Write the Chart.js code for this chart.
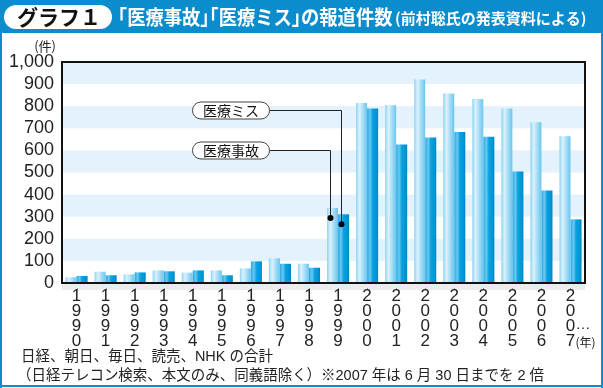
<!DOCTYPE html>
<html lang="ja">
<head>
<meta charset="utf-8">
<script src="https://cdn.jsdelivr.net/npm/chart.js@4.4.1/dist/chart.umd.min.js"></script>
<style>
  html, body { margin: 0; padding: 0; background: #fff; }
</style>
</head>
<body>
<canvas id="graph1" width="603" height="388"></canvas>
<script>
// データ
const years = ['1990', '1991', '1992', '1993', '1994', '1995', '1996', '1997', '1998',
  '1999', '2000', '2001', '2002', '2003', '2004', '2005', '2006', '2007'];
const jikoCounts = [26, 51, 39, 57, 47, 57, 66, 112, 87, 339, 814, 804, 921, 858, 833, 790, 727, 664];
const missCounts = [32, 35, 48, 53, 57, 35, 98, 87, 69, 311, 790, 627, 658, 683, 662, 505, 419, 288];
const yTickValues = [0, 100, 200, 300, 400, 500, 600, 700, 800, 900, 1000];
const yTickLabels = ['0', '100', '200', '300', '400', '500', '600', '700', '800', '900', '1,000'];

const seriesNames = ['医療事故', '医療ミス'];
const badgeText = 'グラフ１';
// タイトルは括弧を詰めて描くので分けておく [文字列, 位置(em)]
const titleParts = [
  ['「', -0.5], ['医療事故', 0.5], ['」', 4.5], ['「', 4.5],
  ['医療ミス', 5.5], ['」', 9.5], ['の報道件数', 10],
];
const titleSub = '(前村聡氏の発表資料による)';
const unitY = '(件)';
const unitX = '(年)';
const notes = [
  '日経、朝日、毎日、読売、NHK の合計',
  '（日経テレコン検索、本文のみ、同義語除く）※2007 年は 6 月 30 日までを 2 倍',
];

const FONT_LATIN = '"Liberation Sans", "Noto Sans CJK JP", sans-serif';
const FONT_JP = '"Noto Sans CJK JP", sans-serif';
const BLUE = '#0b8dcd';
const LABEL_LH = 15;
const LABEL_PAD = 6;

const pillPath = (ctx, x, y, w, h) => {
  const r = h / 2;
  ctx.beginPath();
  ctx.moveTo(x + r, y);
  ctx.lineTo(x + w - r, y);
  ctx.arc(x + w - r, y + r, r, -Math.PI / 2, Math.PI / 2);
  ctx.lineTo(x + r, y + h);
  ctx.arc(x + r, y + r, r, Math.PI / 2, Math.PI * 1.5);
  ctx.closePath();
};

// 縞模様の背景、枠、タイトルなど
const framePlugin = {
  id: 'frame',
  beforeDraw(chart) {
    const { ctx, chartArea: a, scales: { y, x } } = chart;
    ctx.save();
    ctx.fillStyle = '#fff';
    ctx.fillRect(0, 0, chart.width, chart.height);

    ctx.fillStyle = '#e3f2fc';
    for (let v = 100; v < 1000; v += 200) {
      const top = y.getPixelForValue(v + 100);
      const bot = y.getPixelForValue(v);
      ctx.fillRect(a.left, top, a.width, bot - top);
    }

    // 軸下のグレー帯
    ctx.fillStyle = '#ececec';
    ctx.fillRect(a.left, a.bottom, a.width, 7);
    ctx.fillStyle = '#999';
    years.forEach((_, i) => {
      ctx.fillRect(Math.round(x.getPixelForTick(i)), a.bottom + 5, 1, 2);
    });

    // タイトルバー
    ctx.fillStyle = BLUE;
    ctx.fillRect(0, 0, chart.width, 33);
    ctx.fillRect(0, 0, 2, chart.height);
    ctx.fillRect(chart.width - 2, 0, 2, chart.height);
    ctx.fillRect(0, chart.height - 3, chart.width, 2);

    ctx.fillStyle = '#fff';
    pillPath(ctx, 4, 5, 108, 24);
    ctx.fill();

    ctx.textBaseline = 'middle';
    ctx.textAlign = 'left';
    ctx.fillStyle = '#111';
    ctx.font = 'bold 21px ' + FONT_JP;
    ctx.fillText(badgeText, 17, 17, 84);

    ctx.fillStyle = '#fff';
    ctx.font = 'bold 20px ' + FONT_JP;
    ctx.save();
    ctx.translate(118, 17);
    ctx.scale(0.915, 1);
    titleParts.forEach(([t, em]) => ctx.fillText(t, em * 20, 0));
    ctx.restore();
    ctx.font = 'bold 15px ' + FONT_JP;
    ctx.fillText(titleSub, 395, 18, 194);

    // 単位と注記
    ctx.fillStyle = '#222';
    ctx.font = '13px ' + FONT_JP;
    ctx.textAlign = 'right';
    ctx.fillText(unitY, a.left - 6, a.top - 16);

    ctx.textAlign = 'left';
    ctx.font = '15px ' + FONT_LATIN;
    ctx.fillText(notes[0], 21, 357, 252);
    ctx.fillText(notes[1], 17, 376, 527);
    ctx.restore();
  },
  beforeDatasetsDraw(chart) {
    const { ctx } = chart;
    const stops = [
      [[0, '#8fd3f3'], [0.3, '#dbf2fc'], [0.55, '#b2e1f7'], [1, '#68c5ee']],
      [[0, '#2aa9e2'], [0.28, '#6ac8ef'], [0.5, '#0aa2e0'], [0.85, '#0095d5'], [1, '#0080be']],
    ];
    chart.data.datasets.forEach((ds, di) => {
      chart.getDatasetMeta(di).data.forEach((el) => {
        const g = ctx.createLinearGradient(el.x - el.width / 2, 0, el.x + el.width / 2, 0);
        stops[di].forEach(([o, c]) => g.addColorStop(o, c));
        el.options = Object.assign({}, el.options, { backgroundColor: g });
      });
    });
  },
  afterDatasetsDraw(chart) {
    const { ctx, chartArea: a, scales: { x } } = chart;
    ctx.save();
    // プロット枠
    ctx.strokeStyle = '#111';
    ctx.lineWidth = 2;
    ctx.strokeRect(a.left, a.top, a.width, a.height);

    // 吹き出し
    const idx = years.indexOf('1999');
    const callouts = [
      { name: seriesNames[1], el: chart.getDatasetMeta(1).data[idx], cy: a.top + 48, dx: -3 },
      { name: seriesNames[0], el: chart.getDatasetMeta(0).data[idx], cy: a.top + 88, dx: -3 },
    ];
    callouts.forEach(({ name, el, cy, dx }) => {
      const px = a.left + 130, pw = 77, ph = 17;
      const lx = el.x + dx;
      const dotY = el.y + 10;
      ctx.strokeStyle = '#222';
      ctx.lineWidth = 1;
      ctx.beginPath();
      ctx.moveTo(px + pw, cy + 0.5);
      ctx.lineTo(Math.round(lx) + 0.5, cy + 0.5);
      ctx.lineTo(Math.round(lx) + 0.5, dotY);
      ctx.stroke();
      ctx.fillStyle = '#000';
      ctx.beginPath();
      ctx.arc(Math.round(lx) + 0.5, dotY, 3, 0, Math.PI * 2);
      ctx.fill();

      ctx.fillStyle = '#fff';
      ctx.strokeStyle = '#444';
      pillPath(ctx, px + 0.5, cy - ph / 2 + 0.5, pw, ph);
      ctx.fill();
      ctx.stroke();
      ctx.fillStyle = '#111';
      ctx.font = '14px ' + FONT_JP;
      ctx.textAlign = 'center';
      ctx.textBaseline = 'middle';
      ctx.fillText(name, px + pw / 2 + 0.5, cy + 1);
    });

    // 2007 の「…」と「(年)」
    const last = years.length - 1;
    const lx = x.getPixelForTick(last) + 5;
    const row0 = a.bottom + LABEL_PAD + LABEL_LH / 2;
    ctx.fillStyle = '#222';
    ctx.textAlign = 'left';
    ctx.textBaseline = 'middle';
    ctx.font = '15px ' + FONT_LATIN;
    ctx.fillText('…', lx, row0 + LABEL_LH * 2 - 2);
    ctx.font = '12px ' + FONT_JP;
    ctx.fillText(unitX, lx, row0 + LABEL_LH * 3 + 1);
    ctx.restore();
  },
};

const ctx = document.getElementById('graph1').getContext('2d');
const chart = new Chart(ctx, {
  type: 'bar',
  data: {
    labels: years.map((y) => y.split('')),
    datasets: [
      {
        label: seriesNames[0],
        data: jikoCounts,
        backgroundColor: '#9fd9f5',
        borderWidth: 0,
        categoryPercentage: 0.76,
        barPercentage: 1,
      },
      {
        label: seriesNames[1],
        data: missCounts,
        backgroundColor: '#0aa2e0',
        borderWidth: 0,
        categoryPercentage: 0.76,
        barPercentage: 1,
      },
    ],
  },
  options: {
    responsive: false,
    animation: false,
    layout: { padding: { top: 62, right: 18, left: 0, bottom: 0 } },
    plugins: {
      legend: { display: false },
      tooltip: { enabled: false },
    },
    scales: {
      x: {
        grid: { display: false, drawTicks: false },
        border: { display: false },
        afterFit: (s) => { s.height = 105; },
        ticks: {
          padding: LABEL_PAD,
          color: '#222',
          autoSkip: false,
          maxRotation: 0,
          font: { family: FONT_LATIN, size: 17, lineHeight: LABEL_LH + 'px' },
        },
      },
      y: {
        min: 0,
        max: 1000,
        grid: { display: false, drawTicks: false },
        border: { display: false },
        afterFit: (s) => { s.width = 62; },
        afterBuildTicks: (s) => { s.ticks = yTickValues.map((v) => ({ value: v })); },
        ticks: {
          padding: 8,
          autoSkip: false,
          color: '#222',
          font: { family: FONT_LATIN, size: 18 },
          callback: (v, i) => yTickLabels[i],
        },
      },
    },
  },
  plugins: [framePlugin],
});
</script>
</body>
</html>
